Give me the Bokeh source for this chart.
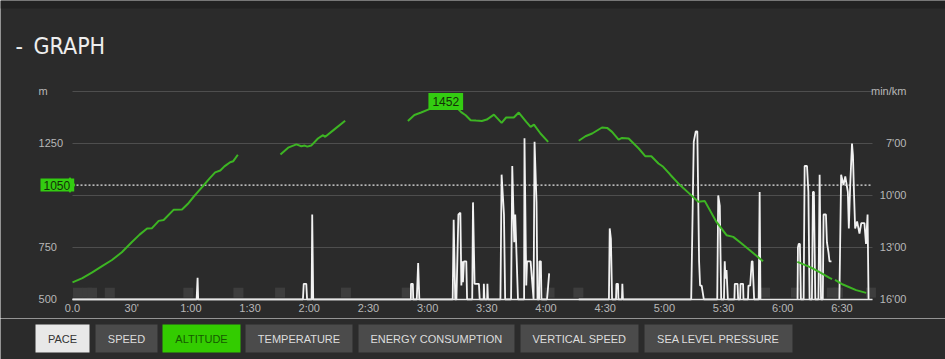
import numpy as np
from bokeh.plotting import figure
from bokeh.models import Range1d, FixedTicker, Label, BoxAnnotation, ColumnDataSource
from bokeh.layouts import column
from bokeh.embed import file_html
from bokeh.resources import INLINE
from bokeh.core.properties import value

nan = float("nan")

# ---------------- data ----------------
# altitude (m) against elapsed time (minutes); nan = gap in the recording
alt_time = [0, 5, 10, 15, 20, 25, 30, 34, 37.8, 40.3, 43.7, 46.2, 51.2, 55.5, 58.5, 61.4, 64, 66.4, 69.5, 72.3, 74.9, 77, 79.9, 81.5, 83.8, nan,
            105.4, 109.3, 113.5, 116, 117.7, 119, 121, 124.4, 127, 128.1, 132.9, 138.2, nan,
            170, 173.3, 176.7, 180.9, 184, 186.5, 189.2, 192, 195, 197, 199.3, 201.8, 204.5, 207.5, 210, 213.6, 217.5, 219.8, 223.7, 226.2, 230, 232.2, 233.9, 237.2, 241.1, nan,
            256.6, 260, 263.4, 268.4, 271, 273.5, 276.8, 278.5, 281.9, 287, 290.3, 293.4, 297, 299.4, 303, 307.9, 312, 317.2, 320.5, 326.4, 331.5, 334.9, 339, 343.3, 350, nan,
            367.4, 373.6, 378, 383.7, 385, nan, 386.5, 390.5, 397.2, 402.3]
alt_m = [582, 603, 630, 660, 690, 727, 775, 812, 841, 843, 878, 882, 931, 933, 960, 994, 1022, 1048, 1082, 1111, 1120, 1140, 1160, 1165, 1196, nan,
         1197, 1230, 1246, 1237, 1240, 1235, 1240, 1274, 1290, 1282, 1319, 1359, nan,
         1358, 1387, 1399, 1415, 1430, 1444, 1452, 1440, 1420, 1401, 1386, 1362, 1360, 1358, 1365, 1389, 1349, 1375, 1375, 1399, 1354, 1330, 1341, 1298, 1258, nan,
         1263, 1285, 1298, 1327, 1325, 1306, 1269, 1277, 1274, 1226, 1189, 1189, 1154, 1138, 1100, 1050, 1015, 970, 973, 873, 809, 801, 770, 737, 684, nan,
         681, 657, 635, 604, 598, nan, 594, 572, 545, 532]

# pace (min/km) against elapsed time (minutes); 16 = slowest shown
pace_time = [0, 62.9, 63.4, 63.7,
             116.8, 117.2, 118.5, 118.9, 121.2, 121.5, 122.0,
             171.5, 171.6, 172.5, 172.7, 174.5, 175.2, 175.8,
             192.7, 193.2, 194.0, 194.6, 195.6, 196.6, 197.1, 197.5, 197.9, 198.4, 199.6, 200.0,
             202.6, 203.0, 203.8, 206.0, 206.4, 208.4, 208.5, 208.8, 210.2, 210.3, 210.6,
             216.9, 217.5, 218.7, 219.3, 222.3, 222.9, 223.9, 224.4, 225.8,
             228.9, 229.1, 230.0, 230.4, 232.2, 233.7, 234.2, 235.2, 235.7, 236.5, 236.7, 237.4, 237.7,
             240.5, 240.9, 241.6, nan,
             256.6, 271.9, 272.3, 272.9, 273.5, 275.5, 275.7, 276.5, 276.7, 278.5, 278.7, 279.0,
             313.6, 314.9, 315.9, 316.7, 317.6, 318.1, 318.9, 320.0,
             326.8, 327.3, 328.1, 328.8, 330.2, 330.6, 331.0, 331.5, 332.2,
             335.5, 335.7, 337.1, 337.4, 338.4, 338.6, 339.9, 340.1,
             342.4, 342.6, 343.5, 344.3, 344.7, 345.5, 347.8, 348.3, 348.7, nan,
             367.5, 367.7, 368.1, 368.7, 369.2, 370.6, 371.1, 372.3, 373.0, 373.6,
             374.8, 375.3, 375.8, 376.5, 378.1, 378.7, 379.4,
             380.3, 380.7, 381.9, 382.4, 383.2, 383.7, 384.7, nan,
             388.7, 389.6, 390.8, 391.7, 393.0, 393.5, 394.2, 395.1, 395.6, 396.1, 396.7, 397.7, 398.9, 399.8, 401.4, 402.2, 403.0, 403.5]
pace_value = [16, 16, 14.75, 16,
              16, 15.1, 15.1, 16, 16, 11.1, 16,
              16, 15.1, 15.1, 16, 16, 13.9, 16,
              16, 11.4, 16, 16, 11.1, 11.0, 15.2, 13.8, 15.0, 13.8, 13.8, 16,
              16, 10.4, 15.1, 15.1, 16, 16, 15.1, 16, 16, 15.1, 16,
              16, 8.8, 11.1, 16, 16, 8.3, 12.7, 11.1, 16,
              16, 6.7, 15.2, 13.8, 13.8, 16, 6.9, 10.4, 16, 16, 13.8, 13.8, 16,
              16, 15.5, 14.5, nan,
              16, 16, 11.9, 12.5, 16, 16, 15.1, 15.1, 16, 16, 15.1, 16,
              16, 6.9, 6.3, 6.3, 13.8, 15.2, 15.2, 16,
              16, 10.0, 10.6, 16, 16, 13.8, 14.8, 14.3, 16,
              16, 15.1, 15.1, 16, 16, 15.1, 15.1, 16,
              16, 15.2, 15.2, 13.8, 13.8, 16, 16, 9.8, 16, nan,
              16, 13.0, 12.8, 12.8, 16, 16, 8.3, 8.3, 9.8, 16,
              16, 9.8, 9.8, 16, 16, 8.8, 16,
              16, 11.1, 11.1, 12.7, 13.3, 13.8, 13.8, nan,
              16, 8.8, 9.4, 8.9, 9.8, 11.9, 9.4, 7.0, 7.7, 9.8, 11.9, 11.5, 12.2, 11.6, 11.6, 12.8, 11.1, 16]

# pause markers (minutes)
pause_time = [2.8, 7.4, 9.9, 18.9, 58.7, 84.1, 105.2, 138.6, 169.4, 241.8, 256.4, 351.0, 366.7, 384.9, 388.0, 404.7]

duration = 405.5  # minutes shown
x_ticks = [0, 30, 60, 90, 120, 150, 180, 210, 240, 270, 300, 330, 360, 390]
x_tick_labels = ["0.0", "30'", "1:00", "1:30", "2:00", "2:30", "3:00", "3:30", "4:00", "4:30", "5:00", "5:30", "6:00", "6:30"]
alt_ticks = [500, 750, 1000, 1250, 1500]
alt_tick_labels = ["500", "750", "", "1250", "m"]
pace_ticks = [4, 7, 10, 13, 16]
pace_tick_labels = ["min/km", "7'00", "10'00", "13'00", "16'00"]
ref_altitude = 1050
max_altitude = 1452
max_altitude_time = 189.2

buttons = ["PACE", "SPEED", "ALTITUDE", "TEMPERATURE", "ENERGY CONSUMPTION", "VERTICAL SPEED", "SEA LEVEL PRESSURE"]

# ---------------- style / layout ----------------
BG = "#2b2b2b"
TOPBAND = "#222222"
GRID = "#4f4f4f"
GREEN_LINE = "#3db523"
GREEN_TAG = "#33cc11"
TAG_TEXT = "#143008"
TICK_TEXT = "#b8b8b8"
FONT = "Liberation Sans"
TITLE_FONT = "DejaVu Sans Condensed, Roboto, sans-serif"

# the plotting frame fills the whole chart figure; the visible data window is
# 0..duration minutes and 500..1500 m (pace 16..4 min/km)
X0, X1 = -36.50, 442.50
p = figure(width=945, height=318, x_range=Range1d(X0, X1), y_range=Range1d(408.65, 1937.5),
           y_axis_location=None, output_backend="svg", toolbar_location=None,
           min_border_left=0, min_border_right=0, min_border_top=0, min_border_bottom=0,
           background_fill_color=BG, border_fill_color=BG, outline_line_color=None)
p.extra_y_ranges = {"pace": Range1d(17.1, -1.25)}
p.grid.visible = False

# dark top band of the page
p.add_layout(BoxAnnotation(bottom=1899, fill_color=TOPBAND, fill_alpha=1, line_color=None,
                           level="underlay"))

xa = p.xaxis[0]
xa.fixed_location = 500
xa.ticker = FixedTicker(ticks=x_ticks)
xa.major_label_overrides = dict(zip(x_ticks, x_tick_labels))
xa.bounds = (0, duration)
xa.axis_line_color = "#e6e6e6"
xa.axis_line_width = 1.5
xa.major_tick_line_color = None
xa.minor_tick_line_color = None
xa.major_tick_out = 0
xa.major_tick_in = 0
xa.major_label_standoff = 3
xa.major_label_text_font = FONT
xa.major_label_text_font_size = "11px"
xa.major_label_text_color = TICK_TEXT

# horizontal grid lines at the altitude ticks (over the data window only)
p.segment(x0=[0] * len(alt_ticks), x1=[duration] * len(alt_ticks), y0=alt_ticks, y1=alt_ticks,
          line_color=GRID, line_width=1)

# left (altitude) and right (pace) tick labels
p.text(x=[-17.2] * len(alt_ticks), y=alt_ticks, text=alt_tick_labels, text_align="left",
       text_baseline="middle", text_font=value(FONT), text_font_size=value("11px"),
       text_color=TICK_TEXT)
p.text(x=[422.7] * len(pace_ticks), y=pace_ticks, text=pace_tick_labels, y_range_name="pace",
       text_align="right", text_baseline="middle", text_font=value(FONT),
       text_font_size=value("11px"), text_color=TICK_TEXT)

# dotted reference line
p.segment(x0=[0], x1=[duration], y0=[ref_altitude], y1=[ref_altitude], line_color="#e6e6e6",
          line_dash="2 2", line_width=1.2)

# pause squares
p.scatter(x=pause_time, y=[533] * len(pause_time), marker="square", size=10,
          fill_color="#3d3d3d", line_color=None)

# pace line
p.line(x=np.array(pace_time, dtype=float), y=np.array(pace_value, dtype=float),
       y_range_name="pace", line_color="#f2f2f2", line_width=1.8)

# altitude line
p.line(x=np.array(alt_time, dtype=float), y=np.array(alt_m, dtype=float),
       line_color=GREEN_LINE, line_width=2)

# title
p.add_layout(Label(x=-28.9, y=1721, text="-", text_align="left", text_baseline="alphabetic",
                   text_font=TITLE_FONT, text_font_size="23px", text_color="#eeeeee"))
p.add_layout(Label(x=-19.77, y=1721, text="GRAPH", text_align="left", text_baseline="alphabetic",
                   text_font=TITLE_FONT, text_font_size="23px", text_color="#eeeeee"))

# reference tag (1050): pointed tip + label
p.scatter(x=[-1.27], y=[ref_altitude], marker="diamond", size=16, fill_color=GREEN_TAG,
          line_color=None)
p.add_layout(Label(x=-16.22, y=ref_altitude, text=str(ref_altitude), text_align="left",
                   text_baseline="middle", text_font=FONT, text_font_size="12px",
                   text_color=TAG_TEXT, background_fill_color=GREEN_TAG,
                   padding=dict(left=3, right=4, top=2, bottom=2)))

# max altitude tag
p.add_layout(Label(x=max_altitude_time, y=max_altitude, text=str(max_altitude),
                   text_align="center", text_baseline="middle", text_font=FONT,
                   text_font_size="12px", text_color=TAG_TEXT,
                   background_fill_color=GREEN_TAG,
                   padding=dict(left=4, right=4, top=4, bottom=4)))

# ---------------- buttons row ----------------
b = figure(width=945, height=41, x_range=Range1d(0, 945), y_range=Range1d(0, 41),
           x_axis_type=None, y_axis_type=None, output_backend="svg", toolbar_location=None,
           min_border=0, background_fill_color=BG, border_fill_color=BG, outline_line_color=None)
b.grid.visible = False

btn_left = [35, 95, 162, 245, 358, 520, 644]
btn_right = [89, 157, 240, 352, 514, 638, 792]
btn_fill = ["#e8e8e8", "#4b4b4b", "#33cc00", "#4b4b4b", "#4b4b4b", "#4b4b4b", "#4b4b4b"]
btn_text = ["#333333", "#dddddd", "#165a00", "#dddddd", "#dddddd", "#dddddd", "#dddddd"]
bsrc = ColumnDataSource(dict(
    left=btn_left, right=btn_right,
    cx=[(l + r) / 2 for l, r in zip(btn_left, btn_right)],
    fill=btn_fill, tcol=btn_text, label=buttons))
b.quad(left="left", right="right", bottom=7, top=35, fill_color="fill", line_color=None, source=bsrc)
b.text(x="cx", y=21, text="label", text_align="center", text_baseline="middle",
       text_font=value(FONT), text_font_size=value("11px"), text_color="tcol", source=bsrc)

page = column(p, b, spacing=0)

open("out.html", "w").write(file_html(page, INLINE, title="Graph"))
